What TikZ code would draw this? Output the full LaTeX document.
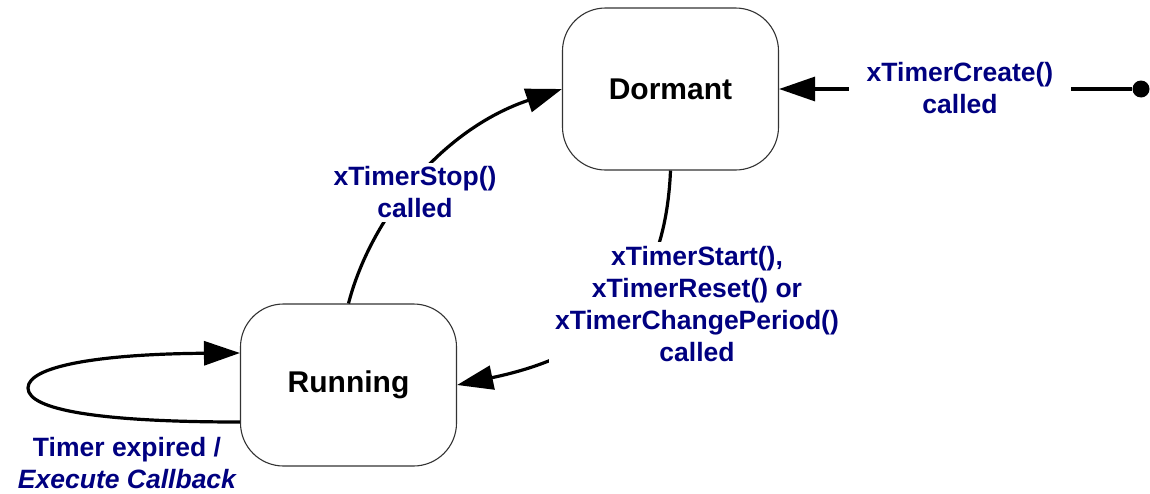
\documentclass[tikz,border=0pt]{standalone}
\usepackage{fontspec}
\setmainfont{Liberation Sans}
\usetikzlibrary{arrows.meta}
\definecolor{lblblue}{RGB}{0,0,128}
\begin{document}
\begin{tikzpicture}[x=1pt,y=-1pt,
 state/.style={draw=black!80, line width=1.1pt, fill=white, rounded corners=43pt,
   minimum width=216pt, minimum height=162pt, inner sep=0pt,
   font=\fontsize{30}{36}\selectfont\bfseries},
 conn/.style={line width=3.2pt, -{Triangle[length=36pt,width=24pt]}},
 lbl/.style={text=lblblue, font=\fontsize{26.5}{32}\selectfont\bfseries, align=center,
   fill=white, inner xsep=6pt, inner ysep=4pt}]
\useasboundingbox (0,0) rectangle (1150,493);
\node[state] (D) at (670.5,89) {Dormant};
\node[state] (R) at (348.5,385) {Running};
\node[circle, fill=black, inner sep=0pt, minimum size=17pt] (start) at (1141,89) {};
% connectors
\draw[conn] (start) -- (D.east);
\draw[conn] (R.north) .. controls (370,220) and (440,130) .. (D.west);
\draw[conn] (D.south) .. controls (665,300) and (600,355) .. (R.east);
\draw[conn] ([yshift=-37pt]R.west) .. controls (100,422) and (28,410) .. (28,388)
  .. controls (28,366) and (100,354) .. ([yshift=32pt]R.west);
% labels
\node[lbl, fill=none] (Lloop) at (127,463) {Timer expired /\\\itshape Execute Callback};
\node[lbl] (Lstop) at (415,192.5) {xTimerStop()\\called};
\node[lbl] (Lstart) at (697,304) {xTimerStart(),\\xTimerReset() or\\xTimerChangePeriod()\\called};
\node[lbl, inner xsep=18pt] (Lcreate) at (960,88) {xTimerCreate()\\called};
\end{tikzpicture}
\end{document}
